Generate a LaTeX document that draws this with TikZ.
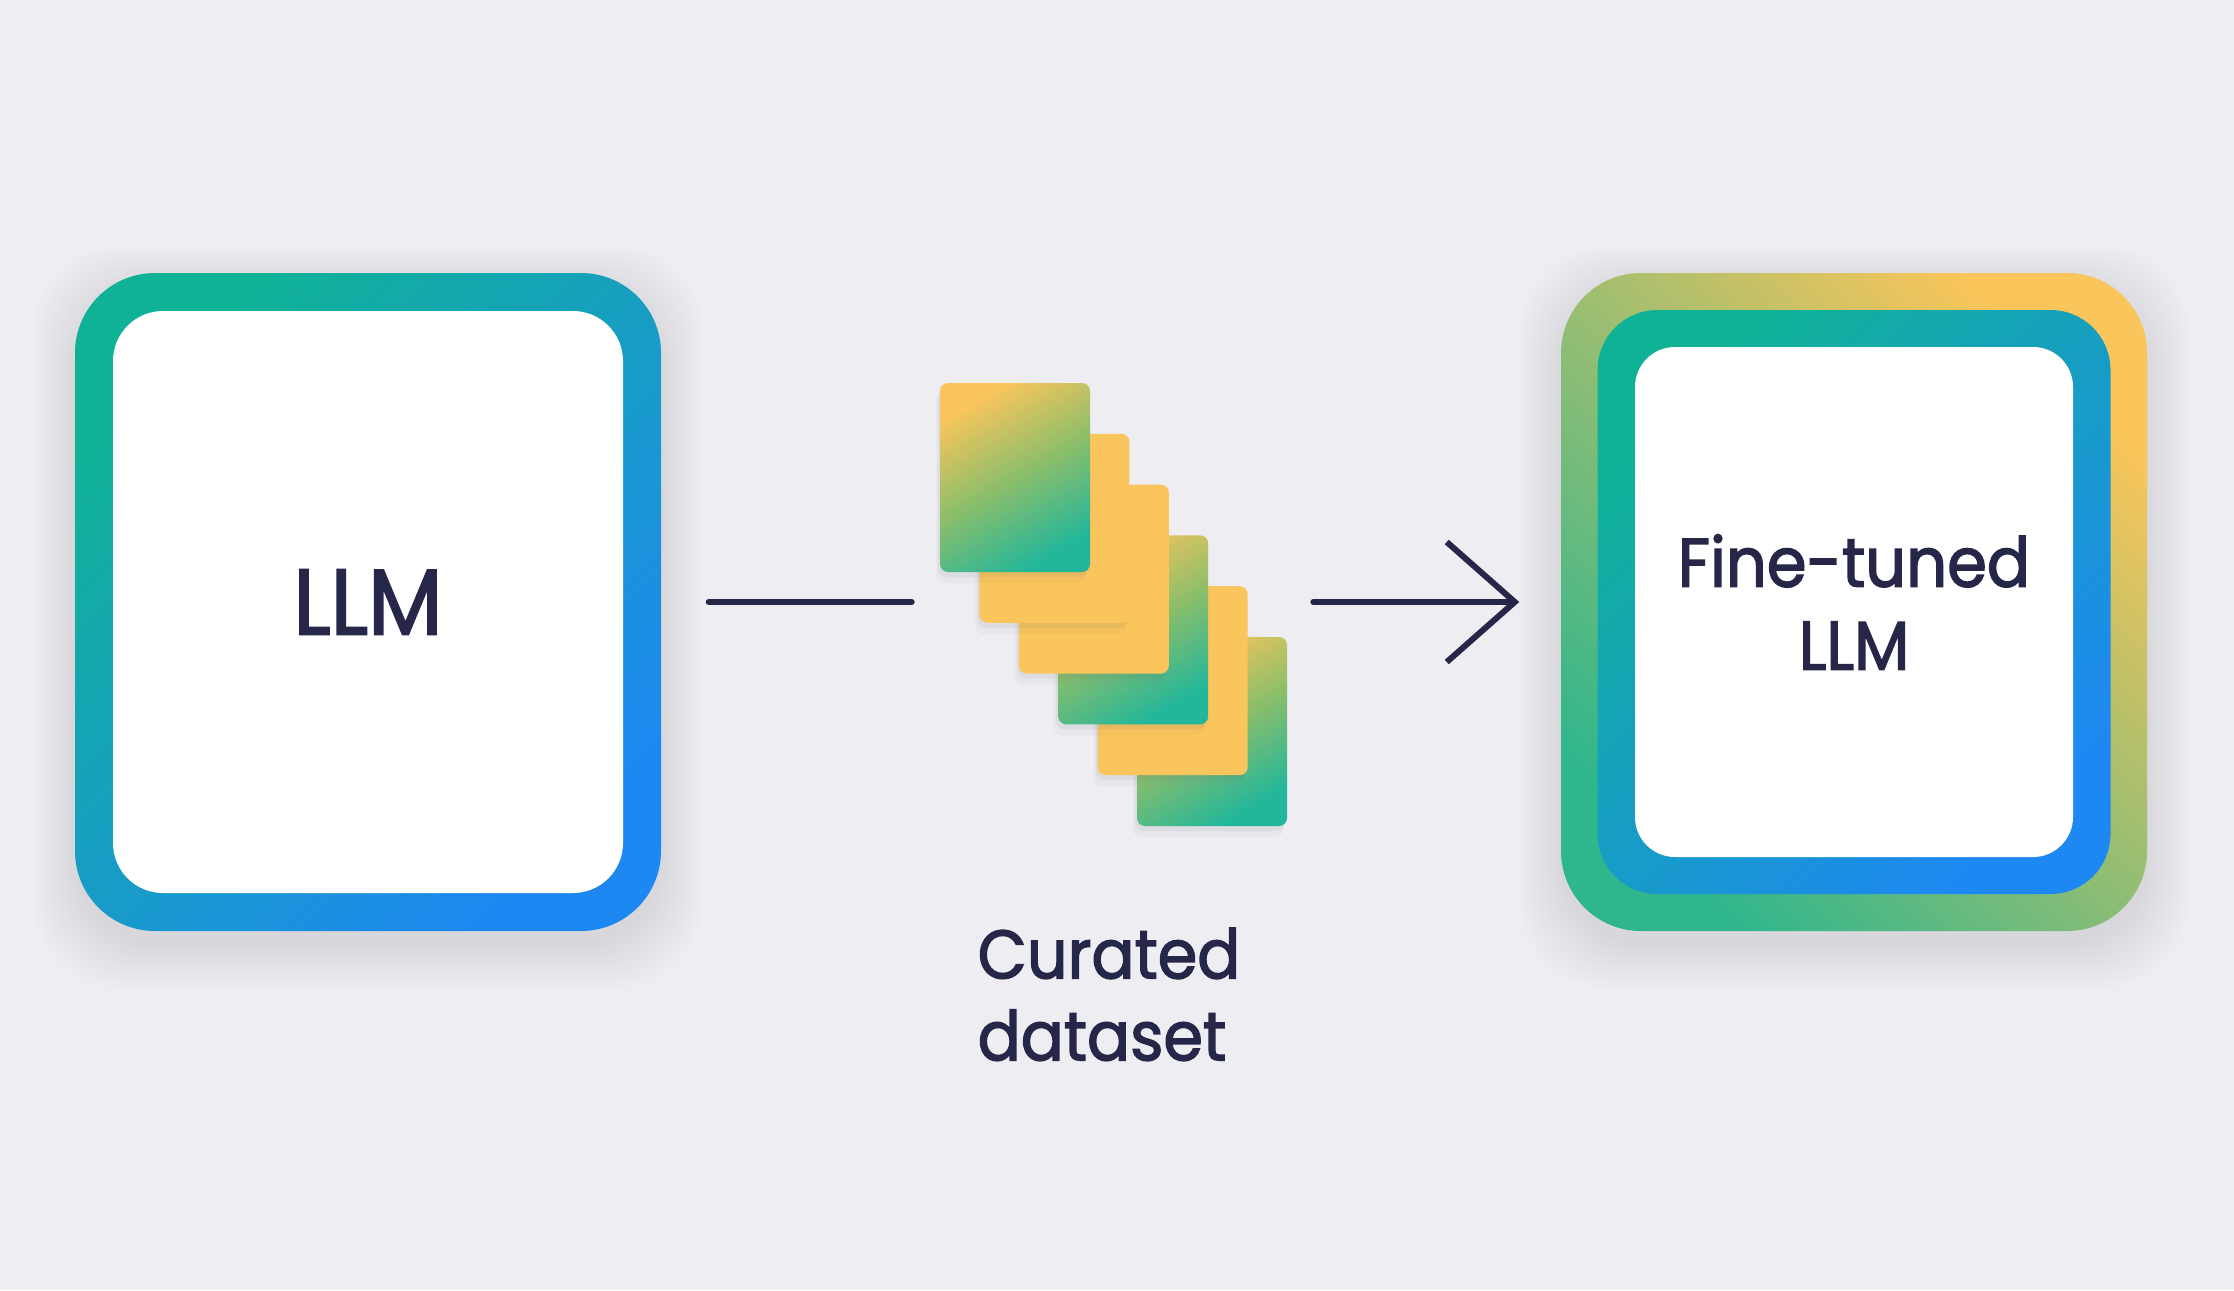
\documentclass[tikz,border=0pt]{standalone}
\usepackage{fontspec}
\setmainfont{Poppins}[FakeStretch=0.93, FakeBold=2]
\usepackage{tikz}
\usetikzlibrary{arrows.meta}
\definecolor{bggray}{RGB}{237,237,242}
\definecolor{textnavy}{RGB}{38,38,72}
\definecolor{ringteal}{RGB}{16,178,150}
\definecolor{ringblue}{RGB}{30,136,242}
\definecolor{goldyellow}{RGB}{250,197,90}
\definecolor{goldgreen}{RGB}{48,182,140}
\definecolor{cardyellow}{RGB}{250,197,92}
\definecolor{cardteal}{RGB}{34,182,155}
\definecolor{cardgreen}{RGB}{140,190,106}
\definecolor{shadowgray}{RGB}{100,100,125}

\tikzset{
  ringbox/.style={rounded corners=0.8cm, minimum width=5.86cm, minimum height=6.58cm, inner sep=0pt,
    top color=ringteal, bottom color=ringblue, shading angle=45},
  goldbox/.style={rounded corners=0.8cm, minimum width=5.86cm, minimum height=6.58cm, inner sep=0pt,
    top color=goldyellow, bottom color=goldgreen, shading angle=-45},
  whitebox/.style={fill=white, rounded corners=0.5cm, inner sep=0pt, text=textnavy},
  cardbox/.style={rounded corners=0.08cm, minimum width=1.5cm, minimum height=1.89cm, inner sep=0pt,
    preaction={fill=shadowgray, opacity=0.07, transform canvas={xshift=-0.02cm, yshift=-0.05cm}},
    preaction={fill=shadowgray, opacity=0.05, transform canvas={xshift=-0.04cm, yshift=-0.11cm}}},
  cardgrad/.style={top color=cardyellow, bottom color=cardteal, middle color=cardgreen, shading angle=30},
  flowline/.style={draw=textnavy, line width=0.06cm, line cap=round},
}

\begin{document}
\begin{tikzpicture}[x=1cm, y=-1cm]

% background
\fill[bggray] (0,0) rectangle (22.34,12.90);
\useasboundingbox (0,0) rectangle (22.34,12.90);

% soft shadows under the two big boxes
\foreach \s in {0.02,0.06,...,0.42} {
  \fill[shadowgray, opacity=0.012, rounded corners=0.9cm] ({0.75-\s},{2.73-\s+0.15}) rectangle ({6.61+\s},{9.31+\s+0.15});
  \fill[shadowgray, opacity=0.012, rounded corners=0.9cm] ({15.61-\s},{2.73-\s+0.15}) rectangle ({21.47+\s},{9.31+\s+0.15});
}

% LLM box
\node[ringbox] (llm) at (3.68,6.02) {};
\node[whitebox, minimum width=5.10cm, minimum height=5.82cm, font=\fontsize{26.5}{30}\selectfont] (llmin) at (llm) {LLM};

% Fine-tuned LLM box
\node[goldbox] (tuned) at (18.54,6.02) {};
\node[ringbox, rounded corners=0.6cm, minimum width=5.13cm, minimum height=5.84cm] (tunedring) at (tuned) {};
\node[whitebox, rounded corners=0.4cm, minimum width=4.38cm, minimum height=5.10cm, align=center,
  font=\fontsize{19.6}{23.6}\selectfont] (tunedin) at (tuned) {Fine-tuned\\LLM};

% curated dataset cards
\node[cardbox, cardgrad] (card6) at (12.12,7.315) {};
\node[cardbox, fill=cardyellow] (card5) at (11.726,6.807) {};
\node[cardbox, cardgrad] (card4) at (11.332,6.299) {};
\node[cardbox, fill=cardyellow] (card3) at (10.938,5.791) {};
\node[cardbox, fill=cardyellow] (card2) at (10.544,5.283) {};
\node[cardbox, cardgrad] (card1) at (10.15,4.775) {};
\node[anchor=north west, inner sep=0pt, align=left, text=textnavy,
  font=\fontsize{19.5}{23.3}\selectfont] (datalabel) at (9.77,9.27) {Curated\\dataset};

% connectors
\draw[flowline, shorten <=0.47cm, shorten >=0.67cm] (llm.east) -- (llm.east -| card2.west);
\draw[flowline, -{Straight Barb[length=0.68cm, width=1.2cm]}, shorten <=0.65cm, shorten >=0.41cm]
  (llm.east -| card5.east) -- (tuned.west);

\end{tikzpicture}
\end{document}
